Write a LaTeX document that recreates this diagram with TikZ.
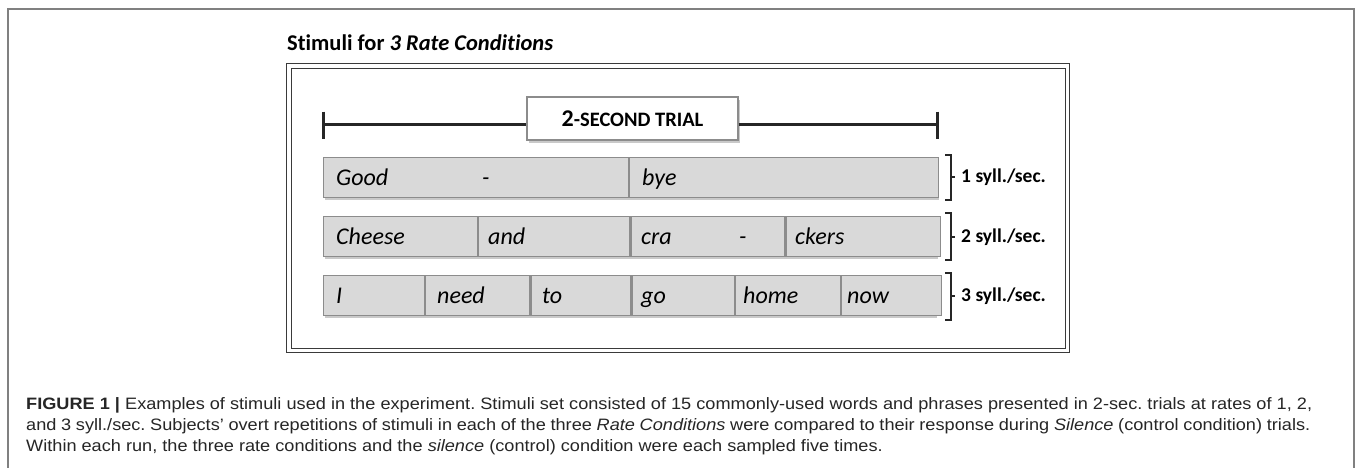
\documentclass[tikz,border=0pt]{standalone}
\usepackage{fontspec}
\setmainfont{Carlito}[Ligatures=NoCommon]
\newfontfamily\capfont{Liberation Sans}[FakeStretch=1.10]
\usetikzlibrary{shadows,calc}
\definecolor{barfill}{HTML}{D9D9D9}
\definecolor{bargray}{HTML}{8C8C8C}
\definecolor{figframe}{HTML}{808080}
\definecolor{boxframe}{HTML}{3A3A3A}
\frenchspacing
\begin{document}
\begin{tikzpicture}[x=1pt,y=-1pt,
  myshadow/.style={drop shadow={shadow xshift=1.5pt,shadow yshift=-2.5pt,opacity=0.35,fill=black!60}},
  barbg/.style={fill=barfill, minimum height=40pt, inner sep=0pt, anchor=north west, myshadow},
  seg/.style={draw=bargray, line width=1.2pt, fill=barfill, inner sep=0pt, anchor=north west, minimum height=40pt},
  word/.style={anchor=base west, font=\fontsize{24}{28}\selectfont\itshape, inner sep=0pt},
  rate/.style={anchor=west, font=\fontsize{19.5}{22}\selectfont\bfseries, inner sep=0pt},
  brk/.style={line width=1.5pt, black!85},
  timeline/.style={line width=2.5pt, black!85},
  tickmark/.style={line width=3pt, black!85},
  trialbox/.style={draw=bargray, line width=1.2pt, fill=white, minimum width=211pt, minimum height=43pt, inner sep=0pt, myshadow},
  capline/.style={anchor=base west, inner sep=0pt, font=\capfont\fontsize{16.5}{20}\selectfont, text=black!85}
]
\useasboundingbox (0,0) rectangle (1357,467);
\fill[white] (0,0) rectangle (1357,467);
% outer figure frame
\draw[figframe, line width=1.5pt] (8,480) -- (8,9) -- (1354,9) -- (1354,480);

% title
\node[anchor=base west, inner sep=0pt, font=\fontsize{22.5}{26}\selectfont\bfseries] (title) at (287,50) {Stimuli for \textit{3 Rate Conditions}};

% double frame
\draw[boxframe, line width=1.6pt] (286.5,63.5) rectangle (1069.5,352.5);
\draw[boxframe, line width=1pt] (291,68) rectangle (1065,348);

% timeline
\coordinate (tl) at (323,124.5);
\coordinate (tr) at (937,124.5);
\node[trialbox] (trial) at (632.5,118.5) {};
\node[anchor=base, inner sep=0pt, font=\bfseries] (trialtxt) at (632.5,126) {\fontsize{24}{26}\selectfont 2\fontsize{20.5}{22}\selectfont -SECOND TRIAL};
\draw[timeline] (tl) -- (tl -| trial.west);
\draw[timeline] (tr -| trial.east) -- (tr);
\draw[tickmark] ($(tl)+(0,-13)$) -- ($(tl)+(0,14)$);
\draw[tickmark] ($(tr)+(0,-13)$) -- ($(tr)+(0,14)$);

% row 1
\node[barbg, minimum width=614pt] (bar1) at (323,157) {};
\node[seg, minimum width=305pt] (a1) at (bar1.north west) {};
\node[seg, minimum width=309pt] (a2) at (a1.north east) {};
\node[word] (w11) at (336,185.5) {Good};
\node[word] (w12) at (482,185.5) {-};
\node[word] (w13) at (642,185.5) {bye};

% row 2
\node[barbg, minimum width=613pt] (bar2) at (323,216) {};
\node[seg, minimum width=154pt] (b1) at (bar2.north west) {};
\node[seg, minimum width=151pt] (b2) at (b1.north east) {};
\node[seg, minimum width=154pt] (b3) at (b2.north east) {};
\node[seg, minimum width=154pt] (b4) at (b3.north east) {};
\node[word] (w21) at (336,244.5) {Cheese};
\node[word] (w22) at (488,244.5) {and};
\node[word] (w23) at (641,244.5) {cra};
\node[word] (w24) at (739,244.5) {-};
\node[word] (w25) at (795,244.5) {ckers};

% row 3
\node[barbg, minimum width=612pt] (bar3) at (323,275) {};
\node[seg, minimum width=101pt] (c1) at (bar3.north west) {};
\node[seg, minimum width=104pt] (c2) at (c1.north east) {};
\node[seg, minimum width=100pt] (c3) at (c2.north east) {};
\node[seg, minimum width=102pt] (c4) at (c3.north east) {};
\node[seg, minimum width=105pt] (c5) at (c4.north east) {};
\node[seg, minimum width=100pt] (c6) at (c5.north east) {};
\node[word] (w31) at (336,303.5) {I};
\node[word] (w32) at (437,303.5) {need};
\node[word] (w33) at (542,303.5) {to};
\node[word] (w34) at (641,303.5) {go};
\node[word] (w35) at (743,303.5) {home};
\node[word] (w36) at (847,303.5) {now};

% brackets and rate labels
\coordinate (k1) at (951,177);
\coordinate (k2) at (951,237);
\coordinate (k3) at (951,296);
\draw[brk] (945,155) -- (951,155) -- (951,200) -- (945,200);
\draw[brk] (k1) -- ++(4,0);
\draw[brk] (945,213) -- (951,213) -- (951,260) -- (945,260);
\draw[brk] (k2) -- ++(4,0);
\draw[brk] (945,273) -- (951,273) -- (951,320) -- (945,320);
\draw[brk] (k3) -- ++(4,0);
\node[rate] (r1) at (961,177) {1 syll./sec.};
\node[rate] (r2) at (961,237) {2 syll./sec.};
\node[rate] (r3) at (961,296) {3 syll./sec.};

% caption
\node[capline] (cap1) at (26,409.5) {\makebox[1286pt][s]{\textbf{FIGURE 1 |} Examples of stimuli used in the experiment. Stimuli set consisted of 15 commonly-used words and phrases presented in 2-sec. trials at rates of 1, 2,}};
\node[capline] (cap2) at (26,430.5) {\makebox[1284pt][s]{and 3 syll./sec. Subjects’ overt repetitions of stimuli in each of the three \textit{Rate Conditions} were compared to their response during \textit{Silence} (control condition) trials.}};
\node[capline] (cap3) at (26,451) {Within each run, the three rate conditions and the \textit{silence} (control) condition were each sampled five times.};
\end{tikzpicture}
\end{document}
